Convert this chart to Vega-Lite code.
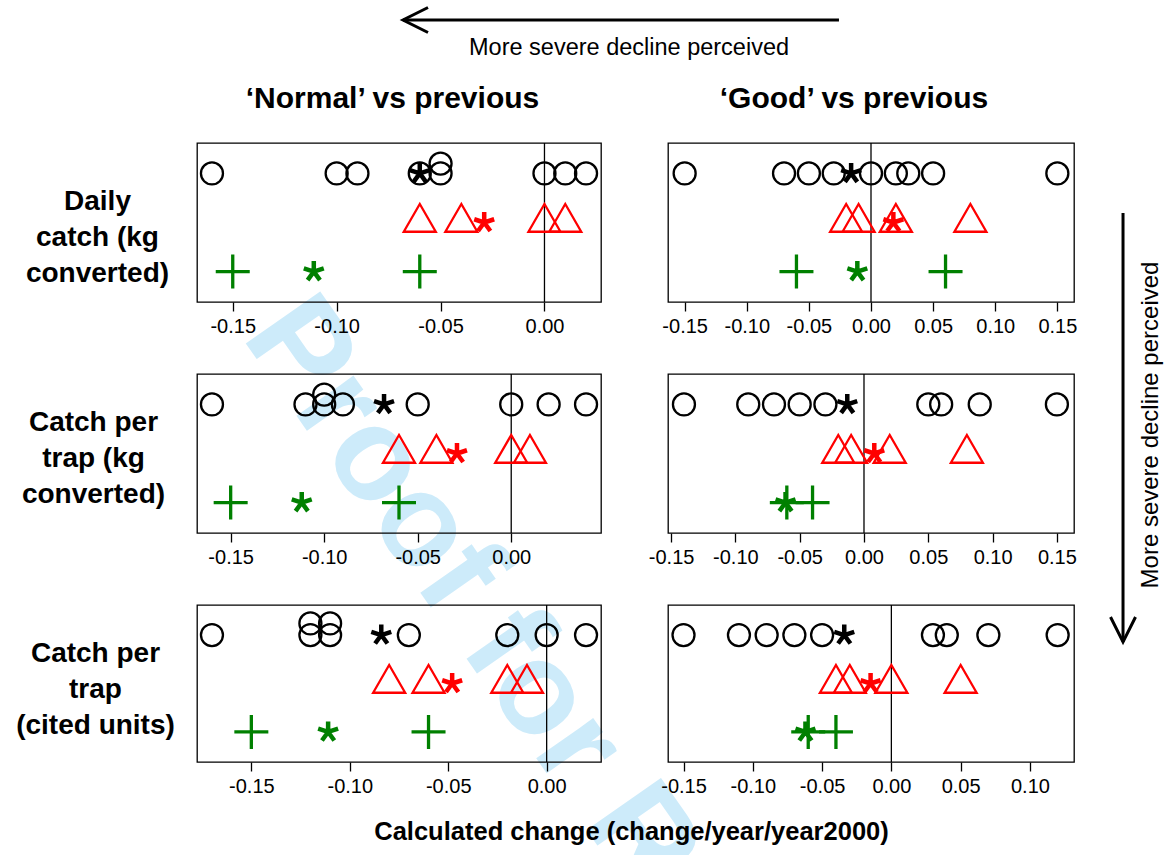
{
  "$schema": "https://vega.github.io/schema/vega-lite/v6.json",
  "padding": {"left": 15, "top": 0, "right": 0, "bottom": 5},
  "background": "white",
  "config": {
    "font": "Liberation Sans",
    "view": {"stroke": "black", "strokeWidth": 1.3},
    "axisX": {"domain": false, "grid": false, "tickSize": 9, "tickWidth": 1.3, "tickColor": "black", "labelColor": "black", "labelFontSize": 20, "labelPadding": 5, "labelFlush": false, "labelOverlap": false, "labelFont": "Liberation Sans"},
    "axisY": {"domain": false, "grid": false, "ticks": false, "labels": false}
  },
  "datasets": {
    "pts": [
      {"p":"N1","k":"o","x":-0.16,"lv":3},{"p":"N1","k":"o","x":-0.10,"lv":3},{"p":"N1","k":"o","x":-0.09,"lv":3},{"p":"N1","k":"o","x":-0.06,"lv":3},{"p":"N1","k":"o","x":-0.05,"lv":3},{"p":"N1","k":"o","x":-0.05,"lv":3.2},{"p":"N1","k":"o","x":0,"lv":3},{"p":"N1","k":"o","x":0.01,"lv":3},{"p":"N1","k":"o","x":0.02,"lv":3},
      {"p":"N1","k":"t","x":-0.06,"lv":2},{"p":"N1","k":"t","x":-0.04,"lv":2},{"p":"N1","k":"t","x":0,"lv":2},{"p":"N1","k":"t","x":0.01,"lv":2},
      {"p":"N1","k":"+","x":-0.15,"lv":1},{"p":"N1","k":"+","x":-0.06,"lv":1},
      {"p":"N1","k":"*","c":"b","x":-0.06,"lv":3},{"p":"N1","k":"*","c":"r","x":-0.029,"lv":2},{"p":"N1","k":"*","c":"g","x":-0.111,"lv":1},

      {"p":"G1","k":"o","x":-0.15,"lv":3},{"p":"G1","k":"o","x":-0.07,"lv":3},{"p":"G1","k":"o","x":-0.05,"lv":3},{"p":"G1","k":"o","x":-0.03,"lv":3},{"p":"G1","k":"o","x":0,"lv":3},{"p":"G1","k":"o","x":0.02,"lv":3},{"p":"G1","k":"o","x":0.03,"lv":3},{"p":"G1","k":"o","x":0.05,"lv":3},{"p":"G1","k":"o","x":0.15,"lv":3},
      {"p":"G1","k":"t","x":-0.02,"lv":2},{"p":"G1","k":"t","x":-0.01,"lv":2},{"p":"G1","k":"t","x":0.02,"lv":2},{"p":"G1","k":"t","x":0.08,"lv":2},
      {"p":"G1","k":"+","x":-0.06,"lv":1},{"p":"G1","k":"+","x":0.06,"lv":1},
      {"p":"G1","k":"*","c":"b","x":-0.016,"lv":3},{"p":"G1","k":"*","c":"r","x":0.018,"lv":2},{"p":"G1","k":"*","c":"g","x":-0.011,"lv":1},

      {"p":"N2","k":"o","x":-0.16,"lv":3},{"p":"N2","k":"o","x":-0.11,"lv":3},{"p":"N2","k":"o","x":-0.10,"lv":3},{"p":"N2","k":"o","x":-0.10,"lv":3.2},{"p":"N2","k":"o","x":-0.09,"lv":3},{"p":"N2","k":"o","x":-0.05,"lv":3},{"p":"N2","k":"o","x":0,"lv":3},{"p":"N2","k":"o","x":0.02,"lv":3},{"p":"N2","k":"o","x":0.04,"lv":3},
      {"p":"N2","k":"t","x":-0.06,"lv":2},{"p":"N2","k":"t","x":-0.04,"lv":2},{"p":"N2","k":"t","x":0,"lv":2},{"p":"N2","k":"t","x":0.01,"lv":2},
      {"p":"N2","k":"+","x":-0.15,"lv":1},{"p":"N2","k":"+","x":-0.06,"lv":1},
      {"p":"N2","k":"*","c":"b","x":-0.068,"lv":3},{"p":"N2","k":"*","c":"r","x":-0.029,"lv":2},{"p":"N2","k":"*","c":"g","x":-0.112,"lv":1},

      {"p":"G2","k":"o","x":-0.14,"lv":3},{"p":"G2","k":"o","x":-0.09,"lv":3},{"p":"G2","k":"o","x":-0.07,"lv":3},{"p":"G2","k":"o","x":-0.05,"lv":3},{"p":"G2","k":"o","x":-0.03,"lv":3},{"p":"G2","k":"o","x":0.05,"lv":3},{"p":"G2","k":"o","x":0.06,"lv":3},{"p":"G2","k":"o","x":0.09,"lv":3},{"p":"G2","k":"o","x":0.15,"lv":3},
      {"p":"G2","k":"t","x":-0.02,"lv":2},{"p":"G2","k":"t","x":-0.01,"lv":2},{"p":"G2","k":"t","x":0.02,"lv":2},{"p":"G2","k":"t","x":0.08,"lv":2},
      {"p":"G2","k":"+","x":-0.06,"lv":1},{"p":"G2","k":"+","x":-0.04,"lv":1},
      {"p":"G2","k":"*","c":"b","x":-0.013,"lv":3},{"p":"G2","k":"*","c":"r","x":0.008,"lv":2},{"p":"G2","k":"*","c":"g","x":-0.061,"lv":1},

      {"p":"N3","k":"o","x":-0.17,"lv":3},{"p":"N3","k":"o","x":-0.12,"lv":3},{"p":"N3","k":"o","x":-0.12,"lv":3.24},{"p":"N3","k":"o","x":-0.11,"lv":3},{"p":"N3","k":"o","x":-0.11,"lv":3.24},{"p":"N3","k":"o","x":-0.07,"lv":3},{"p":"N3","k":"o","x":-0.02,"lv":3},{"p":"N3","k":"o","x":0,"lv":3},{"p":"N3","k":"o","x":0.02,"lv":3},
      {"p":"N3","k":"t","x":-0.08,"lv":2},{"p":"N3","k":"t","x":-0.06,"lv":2},{"p":"N3","k":"t","x":-0.02,"lv":2},{"p":"N3","k":"t","x":-0.01,"lv":2},
      {"p":"N3","k":"+","x":-0.15,"lv":1},{"p":"N3","k":"+","x":-0.06,"lv":1},
      {"p":"N3","k":"*","c":"b","x":-0.084,"lv":3},{"p":"N3","k":"*","c":"r","x":-0.048,"lv":2},{"p":"N3","k":"*","c":"g","x":-0.111,"lv":1},

      {"p":"G3","k":"o","x":-0.15,"lv":3},{"p":"G3","k":"o","x":-0.11,"lv":3},{"p":"G3","k":"o","x":-0.09,"lv":3},{"p":"G3","k":"o","x":-0.07,"lv":3},{"p":"G3","k":"o","x":-0.05,"lv":3},{"p":"G3","k":"o","x":0.03,"lv":3},{"p":"G3","k":"o","x":0.04,"lv":3},{"p":"G3","k":"o","x":0.07,"lv":3},{"p":"G3","k":"o","x":0.12,"lv":3},
      {"p":"G3","k":"t","x":-0.04,"lv":2},{"p":"G3","k":"t","x":-0.03,"lv":2},{"p":"G3","k":"t","x":0,"lv":2},{"p":"G3","k":"t","x":0.05,"lv":2},
      {"p":"G3","k":"+","x":-0.06,"lv":1},{"p":"G3","k":"+","x":-0.04,"lv":1},
      {"p":"G3","k":"*","c":"b","x":-0.034,"lv":3},{"p":"G3","k":"*","c":"r","x":-0.015,"lv":2},{"p":"G3","k":"*","c":"g","x":-0.062,"lv":1}
    ]
  },
  "spacing": 18,
  "bounds": "flush",
  "vconcat": [
    {
      "width": 877,
      "height": 125,
      "view": {"stroke": null},
      "encoding": {
        "x": {"field": "u", "type": "quantitative", "scale": {"domain": [0, 1], "nice": false, "zero": false}, "axis": null},
        "y": {"field": "v", "type": "quantitative", "scale": {"domain": [0, 1], "nice": false, "zero": false}, "axis": null}
      },
      "layer": [
        {"data": {"values": [{"u": 0.05, "v": -1.69, "t": "Proof for R"}]},
         "mark": {"type": "text", "angle": 55, "align": "left", "baseline": "alphabetic", "fontSize": 132, "fontWeight": "bold", "color": "#cdebfa"},
         "encoding": {"text": {"field": "t"}}},
        {"data": {"values": [{"u": 0.2349, "u2": 0.732, "v": 0.84}]},
         "mark": {"type": "rule", "strokeWidth": 3, "color": "black"},
         "encoding": {"x2": {"field": "u2"}}},
        {"data": {"values": [{"u": 0.2349, "v": 0.84}]},
         "mark": {"type": "point", "shape": "M2,-1L0,0L2,1", "size": 625, "filled": false, "strokeWidth": 3, "color": "black", "opacity": 1},
         "encoding": {}},
        {"data": {"values": [{"u": 1.0559, "v": -0.704, "v2": -4.136}]},
         "mark": {"type": "rule", "strokeWidth": 3, "color": "black"},
         "encoding": {"y2": {"field": "v2"}}},
        {"data": {"values": [{"u": 1.0559, "v": -4.136}]},
         "mark": {"type": "point", "shape": "M-1,-2L0,0L1,-2", "size": 625, "filled": false, "strokeWidth": 3, "color": "black", "opacity": 1},
         "encoding": {}},
        {"data": {"values": [{"u": 0.4926, "v": 0.56, "t": "More severe decline perceived"}]},
         "mark": {"type": "text", "fontSize": 23.5, "align": "center", "baseline": "alphabetic", "color": "black"},
         "encoding": {"text": {"field": "t"}}},
        {"data": {"values": [{"u": 1.0958, "v": -2.4, "t": "More severe decline perceived"}]},
         "mark": {"type": "text", "fontSize": 24, "angle": -90, "align": "center", "baseline": "alphabetic", "color": "black"},
         "encoding": {"text": {"field": "t"}}},
        {"data": {"values": [{"u": 0.2229, "v": 0.136, "t": "\u2018Normal\u2019 vs previous"}, {"u": 0.7491, "v": 0.136, "t": "\u2018Good\u2019 vs previous"}]},
         "mark": {"type": "text", "fontSize": 30, "fontWeight": "bold", "align": "center", "baseline": "alphabetic", "color": "black"},
         "encoding": {"text": {"field": "t"}}}
      ]
    },
    {
      "columns": 2,
      "spacing": {"row": 72, "column": 67},
      "bounds": "flush",
      "concat": [
        {
          "width": 404, "height": 159,
          "encoding": {"x": {"field": "x", "type": "quantitative", "scale": {"domain": [-0.1672, 0.0272], "nice": false, "zero": false}, "axis": {"values": [-0.15, -0.1, -0.05, 0], "labelExpr": "replace(format(datum.value, '.2f'), '\u2212', '-')", "title": null}}},
          "layer": [
            {"data": {"values": [{"x": 0}]}, "mark": {"type": "rule", "color": "black", "strokeWidth": 1.3}, "encoding": {}},
            {"data": {"name": "pts"}, "transform": [{"filter": "datum.p == 'N1' && datum.k == 'o'"}],
             "mark": {"type": "point", "shape": "circle", "size": 484, "filled": false, "strokeWidth": 2.3, "color": "black", "opacity": 1},
             "encoding": {"y": {"field": "lv", "type": "quantitative", "scale": {"domain": [0.38, 3.62], "nice": false, "zero": false}, "axis": {"title": ["Daily", "catch (kg", "converted)"], "titleAngle": 0, "titleAlign": "center", "titleBaseline": "alphabetic", "titleX": -100, "titleY": 66, "titleFontSize": 28, "titleFontWeight": "bold", "titleLineHeight": 36, "titleColor": "black"}}}},
            {"data": {"name": "pts"}, "transform": [{"filter": "datum.p == 'N1' && datum.k == 't'"}],
             "mark": {"type": "point", "shape": "M0,-1L-0.866,0.5L0.866,0.5Z", "size": 1369, "filled": false, "strokeWidth": 2.3, "color": "#ff0000", "opacity": 1},
             "encoding": {"y": {"field": "lv", "type": "quantitative", "scale": {"domain": [0.38, 3.62], "nice": false, "zero": false}, "axis": {"title": ["Daily", "catch (kg", "converted)"], "titleAngle": 0, "titleAlign": "center", "titleBaseline": "alphabetic", "titleX": -100, "titleY": 66, "titleFontSize": 28, "titleFontWeight": "bold", "titleLineHeight": 36, "titleColor": "black"}}}},
            {"data": {"name": "pts"}, "transform": [{"filter": "datum.p == 'N1' && datum.k == '+'"}],
             "mark": {"type": "point", "shape": "M-1,0L1,0M0,-1L0,1", "size": 1156, "filled": false, "strokeWidth": 3.3, "color": "#008000", "opacity": 1},
             "encoding": {"y": {"field": "lv", "type": "quantitative", "scale": {"domain": [0.38, 3.62], "nice": false, "zero": false}, "axis": {"title": ["Daily", "catch (kg", "converted)"], "titleAngle": 0, "titleAlign": "center", "titleBaseline": "alphabetic", "titleX": -100, "titleY": 66, "titleFontSize": 28, "titleFontWeight": "bold", "titleLineHeight": 36, "titleColor": "black"}}}},
            {"data": {"name": "pts"}, "transform": [{"filter": "datum.p == 'N1' && datum.k == '*'"}],
             "mark": {"type": "point", "shape": "M0,0L0,-1M0,0L0.951,-0.309M0,0L0.588,0.809M0,0L-0.588,0.809M0,0L-0.951,-0.309", "size": 441, "filled": false, "strokeWidth": 4.5, "opacity": 1},
             "encoding": {"y": {"field": "lv", "type": "quantitative", "scale": {"domain": [0.38, 3.62], "nice": false, "zero": false}, "axis": {"title": ["Daily", "catch (kg", "converted)"], "titleAngle": 0, "titleAlign": "center", "titleBaseline": "alphabetic", "titleX": -100, "titleY": 66, "titleFontSize": 28, "titleFontWeight": "bold", "titleLineHeight": 36, "titleColor": "black"}},
                          "color": {"field": "c", "type": "nominal", "scale": {"domain": ["b", "r", "g"], "range": ["black", "#ff0000", "#008000"]}, "legend": null}}}
          ]
        },
        {
          "width": 406, "height": 159,
          "encoding": {"x": {"field": "x", "type": "quantitative", "scale": {"domain": [-0.1634, 0.1634], "nice": false, "zero": false}, "axis": {"values": [-0.15, -0.1, -0.05, 0, 0.05, 0.1, 0.15], "labelExpr": "replace(format(datum.value, '.2f'), '\u2212', '-')", "title": null}}},
          "layer": [
            {"data": {"values": [{"x": 0}]}, "mark": {"type": "rule", "color": "black", "strokeWidth": 1.3}, "encoding": {}},
            {"data": {"name": "pts"}, "transform": [{"filter": "datum.p == 'G1' && datum.k == 'o'"}],
             "mark": {"type": "point", "shape": "circle", "size": 484, "filled": false, "strokeWidth": 2.3, "color": "black", "opacity": 1},
             "encoding": {"y": {"field": "lv", "type": "quantitative", "scale": {"domain": [0.38, 3.62], "nice": false, "zero": false}, "axis": null}}},
            {"data": {"name": "pts"}, "transform": [{"filter": "datum.p == 'G1' && datum.k == 't'"}],
             "mark": {"type": "point", "shape": "M0,-1L-0.866,0.5L0.866,0.5Z", "size": 1369, "filled": false, "strokeWidth": 2.3, "color": "#ff0000", "opacity": 1},
             "encoding": {"y": {"field": "lv", "type": "quantitative", "scale": {"domain": [0.38, 3.62], "nice": false, "zero": false}, "axis": null}}},
            {"data": {"name": "pts"}, "transform": [{"filter": "datum.p == 'G1' && datum.k == '+'"}],
             "mark": {"type": "point", "shape": "M-1,0L1,0M0,-1L0,1", "size": 1156, "filled": false, "strokeWidth": 3.3, "color": "#008000", "opacity": 1},
             "encoding": {"y": {"field": "lv", "type": "quantitative", "scale": {"domain": [0.38, 3.62], "nice": false, "zero": false}, "axis": null}}},
            {"data": {"name": "pts"}, "transform": [{"filter": "datum.p == 'G1' && datum.k == '*'"}],
             "mark": {"type": "point", "shape": "M0,0L0,-1M0,0L0.951,-0.309M0,0L0.588,0.809M0,0L-0.588,0.809M0,0L-0.951,-0.309", "size": 441, "filled": false, "strokeWidth": 4.5, "opacity": 1},
             "encoding": {"y": {"field": "lv", "type": "quantitative", "scale": {"domain": [0.38, 3.62], "nice": false, "zero": false}, "axis": null},
                          "color": {"field": "c", "type": "nominal", "scale": {"domain": ["b", "r", "g"], "range": ["black", "#ff0000", "#008000"]}, "legend": null}}}
          ]
        },
        {
          "width": 404, "height": 159,
          "encoding": {"x": {"field": "x", "type": "quantitative", "scale": {"domain": [-0.168, 0.048], "nice": false, "zero": false}, "axis": {"values": [-0.15, -0.1, -0.05, 0], "labelExpr": "replace(format(datum.value, '.2f'), '\u2212', '-')", "title": null}}},
          "layer": [
            {"data": {"values": [{"x": 0}]}, "mark": {"type": "rule", "color": "black", "strokeWidth": 1.3}, "encoding": {}},
            {"data": {"name": "pts"}, "transform": [{"filter": "datum.p == 'N2' && datum.k == 'o'"}],
             "mark": {"type": "point", "shape": "circle", "size": 484, "filled": false, "strokeWidth": 2.3, "color": "black", "opacity": 1},
             "encoding": {"y": {"field": "lv", "type": "quantitative", "scale": {"domain": [0.38, 3.62], "nice": false, "zero": false}, "axis": {"title": ["Catch per", "trap (kg", "converted)"], "titleAngle": 0, "titleAlign": "center", "titleBaseline": "alphabetic", "titleX": -104, "titleY": 56, "titleFontSize": 28, "titleFontWeight": "bold", "titleLineHeight": 36, "titleColor": "black"}}}},
            {"data": {"name": "pts"}, "transform": [{"filter": "datum.p == 'N2' && datum.k == 't'"}],
             "mark": {"type": "point", "shape": "M0,-1L-0.866,0.5L0.866,0.5Z", "size": 1369, "filled": false, "strokeWidth": 2.3, "color": "#ff0000", "opacity": 1},
             "encoding": {"y": {"field": "lv", "type": "quantitative", "scale": {"domain": [0.38, 3.62], "nice": false, "zero": false}, "axis": {"title": ["Catch per", "trap (kg", "converted)"], "titleAngle": 0, "titleAlign": "center", "titleBaseline": "alphabetic", "titleX": -104, "titleY": 56, "titleFontSize": 28, "titleFontWeight": "bold", "titleLineHeight": 36, "titleColor": "black"}}}},
            {"data": {"name": "pts"}, "transform": [{"filter": "datum.p == 'N2' && datum.k == '+'"}],
             "mark": {"type": "point", "shape": "M-1,0L1,0M0,-1L0,1", "size": 1156, "filled": false, "strokeWidth": 3.3, "color": "#008000", "opacity": 1},
             "encoding": {"y": {"field": "lv", "type": "quantitative", "scale": {"domain": [0.38, 3.62], "nice": false, "zero": false}, "axis": {"title": ["Catch per", "trap (kg", "converted)"], "titleAngle": 0, "titleAlign": "center", "titleBaseline": "alphabetic", "titleX": -104, "titleY": 56, "titleFontSize": 28, "titleFontWeight": "bold", "titleLineHeight": 36, "titleColor": "black"}}}},
            {"data": {"name": "pts"}, "transform": [{"filter": "datum.p == 'N2' && datum.k == '*'"}],
             "mark": {"type": "point", "shape": "M0,0L0,-1M0,0L0.951,-0.309M0,0L0.588,0.809M0,0L-0.588,0.809M0,0L-0.951,-0.309", "size": 441, "filled": false, "strokeWidth": 4.5, "opacity": 1},
             "encoding": {"y": {"field": "lv", "type": "quantitative", "scale": {"domain": [0.38, 3.62], "nice": false, "zero": false}, "axis": {"title": ["Catch per", "trap (kg", "converted)"], "titleAngle": 0, "titleAlign": "center", "titleBaseline": "alphabetic", "titleX": -104, "titleY": 56, "titleFontSize": 28, "titleFontWeight": "bold", "titleLineHeight": 36, "titleColor": "black"}},
                          "color": {"field": "c", "type": "nominal", "scale": {"domain": ["b", "r", "g"], "range": ["black", "#ff0000", "#008000"]}, "legend": null}}}
          ]
        },
        {
          "width": 406, "height": 159,
          "encoding": {"x": {"field": "x", "type": "quantitative", "scale": {"domain": [-0.1524, 0.1633], "nice": false, "zero": false}, "axis": {"values": [-0.15, -0.1, -0.05, 0, 0.05, 0.1, 0.15], "labelExpr": "replace(format(datum.value, '.2f'), '\u2212', '-')", "title": null}}},
          "layer": [
            {"data": {"values": [{"x": 0}]}, "mark": {"type": "rule", "color": "black", "strokeWidth": 1.3}, "encoding": {}},
            {"data": {"name": "pts"}, "transform": [{"filter": "datum.p == 'G2' && datum.k == 'o'"}],
             "mark": {"type": "point", "shape": "circle", "size": 484, "filled": false, "strokeWidth": 2.3, "color": "black", "opacity": 1},
             "encoding": {"y": {"field": "lv", "type": "quantitative", "scale": {"domain": [0.38, 3.62], "nice": false, "zero": false}, "axis": null}}},
            {"data": {"name": "pts"}, "transform": [{"filter": "datum.p == 'G2' && datum.k == 't'"}],
             "mark": {"type": "point", "shape": "M0,-1L-0.866,0.5L0.866,0.5Z", "size": 1369, "filled": false, "strokeWidth": 2.3, "color": "#ff0000", "opacity": 1},
             "encoding": {"y": {"field": "lv", "type": "quantitative", "scale": {"domain": [0.38, 3.62], "nice": false, "zero": false}, "axis": null}}},
            {"data": {"name": "pts"}, "transform": [{"filter": "datum.p == 'G2' && datum.k == '+'"}],
             "mark": {"type": "point", "shape": "M-1,0L1,0M0,-1L0,1", "size": 1156, "filled": false, "strokeWidth": 3.3, "color": "#008000", "opacity": 1},
             "encoding": {"y": {"field": "lv", "type": "quantitative", "scale": {"domain": [0.38, 3.62], "nice": false, "zero": false}, "axis": null}}},
            {"data": {"name": "pts"}, "transform": [{"filter": "datum.p == 'G2' && datum.k == '*'"}],
             "mark": {"type": "point", "shape": "M0,0L0,-1M0,0L0.951,-0.309M0,0L0.588,0.809M0,0L-0.588,0.809M0,0L-0.951,-0.309", "size": 441, "filled": false, "strokeWidth": 4.5, "opacity": 1},
             "encoding": {"y": {"field": "lv", "type": "quantitative", "scale": {"domain": [0.38, 3.62], "nice": false, "zero": false}, "axis": null},
                          "color": {"field": "c", "type": "nominal", "scale": {"domain": ["b", "r", "g"], "range": ["black", "#ff0000", "#008000"]}, "legend": null}}}
          ]
        },
        {
          "width": 404, "height": 157,
          "encoding": {"x": {"field": "x", "type": "quantitative", "scale": {"domain": [-0.1776, 0.0276], "nice": false, "zero": false}, "axis": {"values": [-0.15, -0.1, -0.05, 0], "labelExpr": "replace(format(datum.value, '.2f'), '\u2212', '-')", "title": "Calculated change (change/year/year2000)", "titleX": 434, "titleY": 77, "titleAlign": "center", "titleBaseline": "alphabetic", "titleFontSize": 25.5, "titleFontWeight": "bold", "titleColor": "black"}}},
          "layer": [
            {"data": {"values": [{"x": 0}]}, "mark": {"type": "rule", "color": "black", "strokeWidth": 1.3}, "encoding": {}},
            {"data": {"name": "pts"}, "transform": [{"filter": "datum.p == 'N3' && datum.k == 'o'"}],
             "mark": {"type": "point", "shape": "circle", "size": 484, "filled": false, "strokeWidth": 2.3, "color": "black", "opacity": 1},
             "encoding": {"y": {"field": "lv", "type": "quantitative", "scale": {"domain": [0.38, 3.62], "nice": false, "zero": false}, "axis": {"title": ["Catch per", "trap", "(cited units)"], "titleAngle": 0, "titleAlign": "center", "titleBaseline": "alphabetic", "titleX": -102, "titleY": 56, "titleFontSize": 28, "titleFontWeight": "bold", "titleLineHeight": 36, "titleColor": "black"}}}},
            {"data": {"name": "pts"}, "transform": [{"filter": "datum.p == 'N3' && datum.k == 't'"}],
             "mark": {"type": "point", "shape": "M0,-1L-0.866,0.5L0.866,0.5Z", "size": 1369, "filled": false, "strokeWidth": 2.3, "color": "#ff0000", "opacity": 1},
             "encoding": {"y": {"field": "lv", "type": "quantitative", "scale": {"domain": [0.38, 3.62], "nice": false, "zero": false}, "axis": {"title": ["Catch per", "trap", "(cited units)"], "titleAngle": 0, "titleAlign": "center", "titleBaseline": "alphabetic", "titleX": -102, "titleY": 56, "titleFontSize": 28, "titleFontWeight": "bold", "titleLineHeight": 36, "titleColor": "black"}}}},
            {"data": {"name": "pts"}, "transform": [{"filter": "datum.p == 'N3' && datum.k == '+'"}],
             "mark": {"type": "point", "shape": "M-1,0L1,0M0,-1L0,1", "size": 1156, "filled": false, "strokeWidth": 3.3, "color": "#008000", "opacity": 1},
             "encoding": {"y": {"field": "lv", "type": "quantitative", "scale": {"domain": [0.38, 3.62], "nice": false, "zero": false}, "axis": {"title": ["Catch per", "trap", "(cited units)"], "titleAngle": 0, "titleAlign": "center", "titleBaseline": "alphabetic", "titleX": -102, "titleY": 56, "titleFontSize": 28, "titleFontWeight": "bold", "titleLineHeight": 36, "titleColor": "black"}}}},
            {"data": {"name": "pts"}, "transform": [{"filter": "datum.p == 'N3' && datum.k == '*'"}],
             "mark": {"type": "point", "shape": "M0,0L0,-1M0,0L0.951,-0.309M0,0L0.588,0.809M0,0L-0.588,0.809M0,0L-0.951,-0.309", "size": 441, "filled": false, "strokeWidth": 4.5, "opacity": 1},
             "encoding": {"y": {"field": "lv", "type": "quantitative", "scale": {"domain": [0.38, 3.62], "nice": false, "zero": false}, "axis": {"title": ["Catch per", "trap", "(cited units)"], "titleAngle": 0, "titleAlign": "center", "titleBaseline": "alphabetic", "titleX": -102, "titleY": 56, "titleFontSize": 28, "titleFontWeight": "bold", "titleLineHeight": 36, "titleColor": "black"}},
                          "color": {"field": "c", "type": "nominal", "scale": {"domain": ["b", "r", "g"], "range": ["black", "#ff0000", "#008000"]}, "legend": null}}}
          ]
        },
        {
          "width": 406, "height": 157,
          "encoding": {"x": {"field": "x", "type": "quantitative", "scale": {"domain": [-0.1612, 0.1318], "nice": false, "zero": false}, "axis": {"values": [-0.15, -0.1, -0.05, 0, 0.05, 0.1], "labelExpr": "replace(format(datum.value, '.2f'), '\u2212', '-')", "title": null}}},
          "layer": [
            {"data": {"values": [{"x": 0}]}, "mark": {"type": "rule", "color": "black", "strokeWidth": 1.3}, "encoding": {}},
            {"data": {"name": "pts"}, "transform": [{"filter": "datum.p == 'G3' && datum.k == 'o'"}],
             "mark": {"type": "point", "shape": "circle", "size": 484, "filled": false, "strokeWidth": 2.3, "color": "black", "opacity": 1},
             "encoding": {"y": {"field": "lv", "type": "quantitative", "scale": {"domain": [0.38, 3.62], "nice": false, "zero": false}, "axis": null}}},
            {"data": {"name": "pts"}, "transform": [{"filter": "datum.p == 'G3' && datum.k == 't'"}],
             "mark": {"type": "point", "shape": "M0,-1L-0.866,0.5L0.866,0.5Z", "size": 1369, "filled": false, "strokeWidth": 2.3, "color": "#ff0000", "opacity": 1},
             "encoding": {"y": {"field": "lv", "type": "quantitative", "scale": {"domain": [0.38, 3.62], "nice": false, "zero": false}, "axis": null}}},
            {"data": {"name": "pts"}, "transform": [{"filter": "datum.p == 'G3' && datum.k == '+'"}],
             "mark": {"type": "point", "shape": "M-1,0L1,0M0,-1L0,1", "size": 1156, "filled": false, "strokeWidth": 3.3, "color": "#008000", "opacity": 1},
             "encoding": {"y": {"field": "lv", "type": "quantitative", "scale": {"domain": [0.38, 3.62], "nice": false, "zero": false}, "axis": null}}},
            {"data": {"name": "pts"}, "transform": [{"filter": "datum.p == 'G3' && datum.k == '*'"}],
             "mark": {"type": "point", "shape": "M0,0L0,-1M0,0L0.951,-0.309M0,0L0.588,0.809M0,0L-0.588,0.809M0,0L-0.951,-0.309", "size": 441, "filled": false, "strokeWidth": 4.5, "opacity": 1},
             "encoding": {"y": {"field": "lv", "type": "quantitative", "scale": {"domain": [0.38, 3.62], "nice": false, "zero": false}, "axis": null},
                          "color": {"field": "c", "type": "nominal", "scale": {"domain": ["b", "r", "g"], "range": ["black", "#ff0000", "#008000"]}, "legend": null}}}
          ]
        }
      ]
    }
  ]
}
